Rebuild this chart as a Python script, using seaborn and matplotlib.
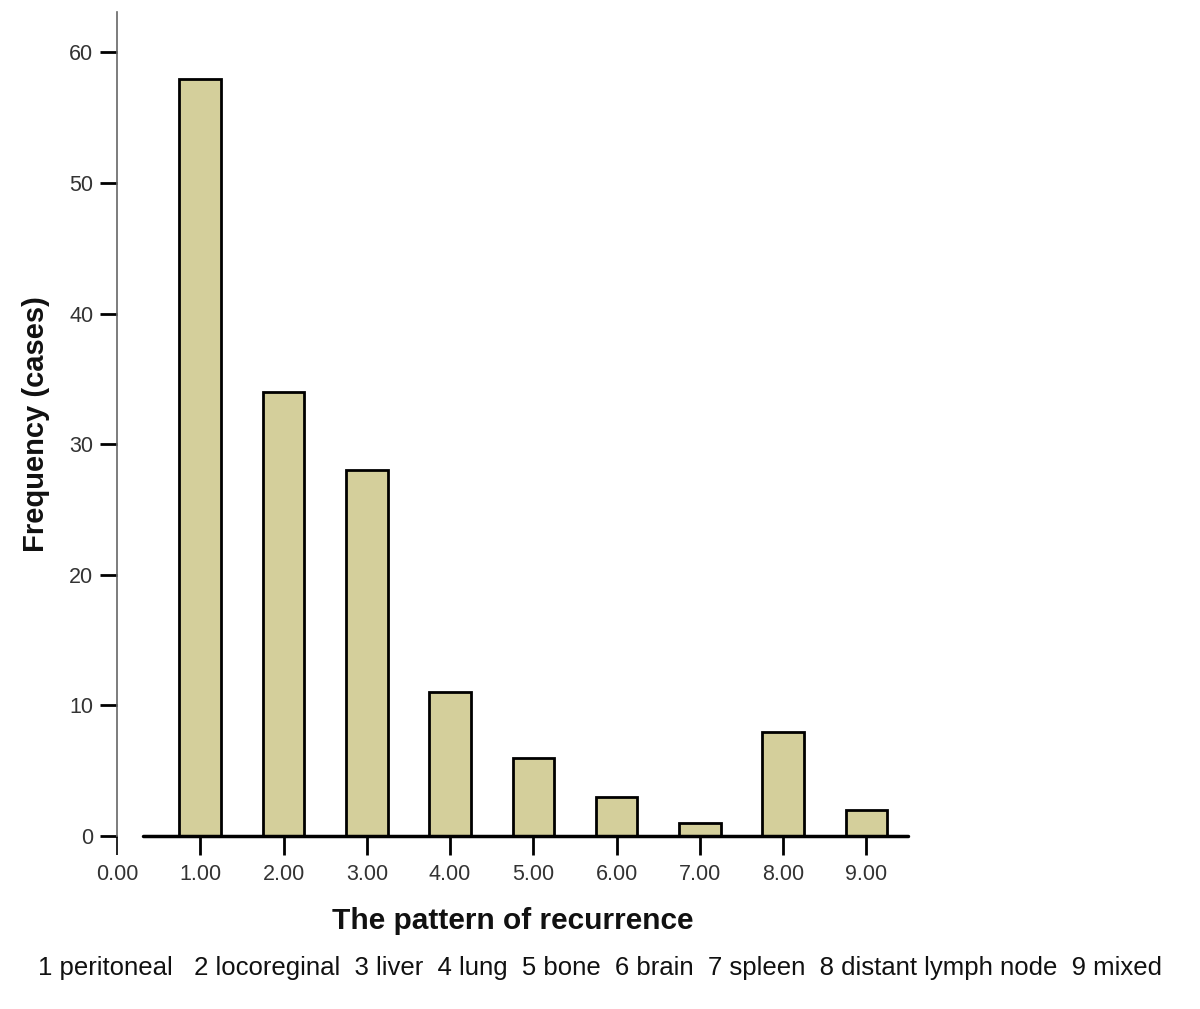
import matplotlib
matplotlib.use("Agg")
import matplotlib.pyplot as plt
import seaborn as sns

# ---- data ----
pattern_codes = [1, 2, 3, 4, 5, 6, 7, 8, 9]
case_counts = [58, 34, 28, 11, 6, 3, 1, 8, 2]
x_ticks = [0, 1, 2, 3, 4, 5, 6, 7, 8, 9]
y_ticks = [0, 10, 20, 30, 40, 50, 60]
legend_text = ("1 peritoneal   2 locoreginal  3 liver  4 lung  5 bone  6 brain  "
               "7 spleen  8 distant lymph node  9 mixed")

sns.set_style("white")
plt.rcParams['font.family'] = ['Liberation Sans', 'DejaVu Sans']

fig = plt.figure(figsize=(12, 10.09), dpi=100)
ax = fig.add_axes([0.0975, 0.1714, 0.6592, 0.8167])

sns.barplot(x=pattern_codes, y=case_counts, native_scale=True, width=0.5,
            color="#d4cf9b", saturation=1, edgecolor="black", linewidth=2, ax=ax)

ax.set_xlim(0, 9.5)
ax.set_ylim(0, 63.1)

# baseline (SPSS style), left spine only
ax.axhline(0, xmin=0.31 / 9.5, xmax=1, color="black", lw=2.5, zorder=5, clip_on=False)
for side in ["top", "right", "bottom"]:
    ax.spines[side].set_visible(False)
ax.spines["left"].set_color("#666666")
ax.spines["left"].set_linewidth(1.2)

ax.set_xticks(x_ticks)
ax.set_xticklabels([f"{v:.2f}" for v in x_ticks])
ax.set_yticks(y_ticks)
ax.tick_params(axis="x", bottom=True, direction="out", length=14, width=2, color="black",
               labelsize=15.5, labelcolor="#333333", pad=6)
ax.tick_params(axis="y", left=True, direction="out", length=12, width=2, color="black",
               labelsize=15.5, labelcolor="#333333", pad=5)
first_tick = ax.xaxis.get_major_ticks()[0].tick1line
first_tick.set_color("#666666")
first_tick.set_markeredgewidth(1.2)

ax.set_xlabel("The pattern of recurrence", fontsize=21.5, fontweight="bold",
              labelpad=16, color="#111111")
ax.set_ylabel("Frequency (cases)", fontsize=21, fontweight="bold",
              labelpad=14, color="#111111")

fig.text(0.5, 1 - 968 / 1009, legend_text, ha="center", va="center",
         fontsize=18.5, color="#111111")

plt.savefig("out.png", dpi=100)
